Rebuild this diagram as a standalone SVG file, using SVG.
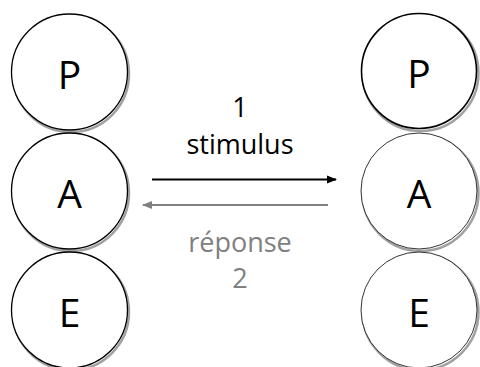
<svg xmlns="http://www.w3.org/2000/svg" width="480" height="367" viewBox="0 0 480 367">
<defs>
<style>
.c{fill:#fff;stroke:#000;stroke-width:1.3}
.ct{fill:#fff;stroke:#000;stroke-width:0.8}
.ck{fill:#fff;stroke:#000;stroke-width:1.6}
.sh{fill:none;stroke:#8a8a8a;stroke-width:2.5;opacity:0.8}
.t{font-family:"Open Sans","Liberation Sans",sans-serif;font-size:39px;text-anchor:middle;fill:#000}
.l{font-family:"Open Sans","Liberation Sans",sans-serif;font-size:27px;text-anchor:middle}
</style>
<marker id="ab" viewBox="0 0 10 10" refX="9" refY="5" markerWidth="5" markerHeight="5" orient="auto" markerUnits="strokeWidth"><path d="M0,1 L10,5 L0,9 Z" fill="#000"/></marker>
<marker id="ag" viewBox="0 0 10 10" refX="9" refY="5" markerWidth="5" markerHeight="5" orient="auto" markerUnits="strokeWidth"><path d="M0,1 L10,5 L0,9 Z" fill="#808080"/></marker>
</defs>
<rect width="480" height="367" fill="#fff"/>
<g id="left-P"><circle class="sh" cx="71" cy="74" r="58"/><circle class="c" cx="69.5" cy="72" r="58"/><text class="t" x="69.5" y="89">P</text></g>
<g id="left-A"><circle class="sh" cx="71" cy="193" r="58"/><circle class="c" cx="69.5" cy="191" r="58"/><text class="t" x="69.5" y="208">A</text></g>
<g id="left-E"><circle class="sh" cx="71" cy="312" r="58"/><circle class="c" cx="69.5" cy="310" r="58"/><text class="t" x="69.5" y="327">E</text></g>
<g id="right-P"><circle class="sh" cx="420.5" cy="73" r="58"/><circle class="ck" cx="419" cy="71" r="57.5"/><text class="t" x="419" y="88">P</text></g>
<g id="right-A"><circle class="sh" cx="420.5" cy="193" r="58"/><circle class="ct" cx="419" cy="191" r="58"/><text class="t" x="419" y="208">A</text></g>
<g id="right-E"><circle class="sh" cx="420.5" cy="312" r="58"/><circle class="ct" cx="419" cy="310" r="58"/><text class="t" x="419" y="327">E</text></g>
<g id="connectors">
<line x1="152" y1="179.5" x2="336" y2="179.5" stroke="#000" stroke-width="2" marker-end="url(#ab)"/>
<line x1="328" y1="205" x2="143" y2="205" stroke="#808080" stroke-width="2" marker-end="url(#ag)"/>
</g>
<g id="labels">
<text class="l" x="240" y="116.5" fill="#000">1</text>
<text class="l" x="240" y="154" fill="#000">stimulus</text>
<text class="l" x="240" y="252" fill="#808080">réponse</text>
<text class="l" x="240" y="288" fill="#808080">2</text>
</g>
</svg>
